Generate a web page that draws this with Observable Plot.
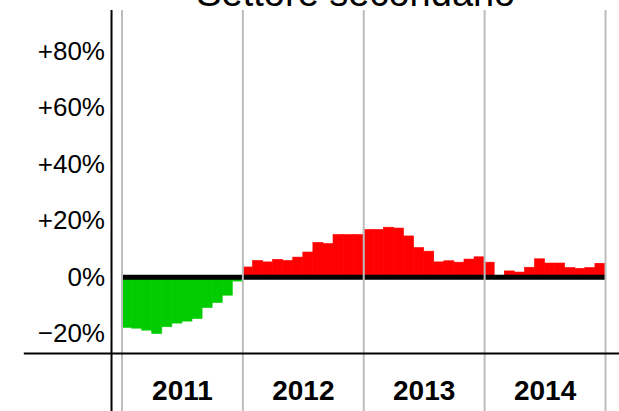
<!DOCTYPE html>
<html>
<head>
<meta charset="utf-8">
<script src="https://cdn.jsdelivr.net/npm/d3@7"></script>
<script src="https://cdn.jsdelivr.net/npm/@observablehq/plot@0.6"></script>
<style>
  body { margin: 0; background: #fff; }
</style>
</head>
<body>
<div id="chart"></div>
<script>
const title = "Settore secondario";
const years = ["2011", "2012", "2013", "2014"];
// variazione % mensile, una lista per anno
const v2011 = [-17.9, -18.2, -18.9, -20.1, -17.7, -16.4, -15.7, -14.8, -10.9, -9.1, -6.5, -1.5];
const v2012 = [3.5, 5.8, 5.3, 6.2, 5.8, 7.0, 8.8, 12.2, 11.8, 15.0, 15.0, 15.0];
const v2013 = [16.8, 16.8, 17.6, 17.3, 14.5, 10.4, 9.1, 5.3, 5.7, 5.2, 6.3, 7.1];
const v2014 = [5.2, 0.3, 2.1, 1.7, 3.4, 6.4, 4.9, 4.9, 3.3, 3.0, 3.3, 4.8];
const yTicks = [-20, 0, 20, 40, 60, 80];

const data = [v2011, v2012, v2013, v2014].flatMap((vals, k) =>
  vals.map((v, m) => ({year: years[k], i: k * 12 + m, value: v})));
const yearLabels = years.map((y, k) => ({year: y, mid: k * 12 + 6}));
const yearEdges = d3.range(0, years.length * 12 + 1, 12);

const yMin = -27, yMax = 94.6;
const fmt = d => d > 0 ? "+" + d + "%" : d < 0 ? "\u2212" + Math.abs(d) + "%" : "0%";

let chart = Plot.plot({
  width: 619,
  height: 411,
  marginLeft: 121.5,
  marginRight: 14,
  marginTop: 10,
  marginBottom: 58,
  x: {domain: [0, 48], axis: null},
  y: {
    domain: [yMin, yMax],
    ticks: yTicks,
    tickFormat: fmt,
    tickSize: 0,
    tickPadding: 17,
    label: null
  },
  marks: [
    Plot.rectY(data, {
      x1: "i", x2: d => d.i + 1, y: "value",
      fill: d => d.value < 0 ? "#00cc00" : "#ff0000",
      stroke: d => d.value < 0 ? "#00cc00" : "#ff0000",
      strokeWidth: 0.6
    }),
    Plot.ruleY([0], {stroke: "black", strokeWidth: 5}),
    Plot.ruleX(yearEdges, {y1: yMax, y2: -48, stroke: "#bdbdbd", strokeWidth: 2}),
    Plot.ruleX([-1.04], {y1: yMax, y2: -48, stroke: "black", strokeWidth: 2}),
    Plot.ruleY([yMin], {x1: -9.7, x2: 49.5, stroke: "black", strokeWidth: 2}),
    Plot.text(yearLabels, {
      x: "mid", text: "year", frameAnchor: "bottom", lineAnchor: "top",
      dy: 27, fontSize: 28, fontWeight: "bold", fill: "black"
    }),
    Plot.text([title], {
      frameAnchor: "top", lineAnchor: "middle", dx: -8, dy: -16.7,
      fontSize: 38, fill: "black"
    })
  ],
  style: {
    fontFamily: "Liberation Sans, Arial, sans-serif",
    fontSize: "26px",
    color: "black",
    background: "white"
  }
});
d3.select("#chart").append(() => chart);
</script>
</body>
</html>
